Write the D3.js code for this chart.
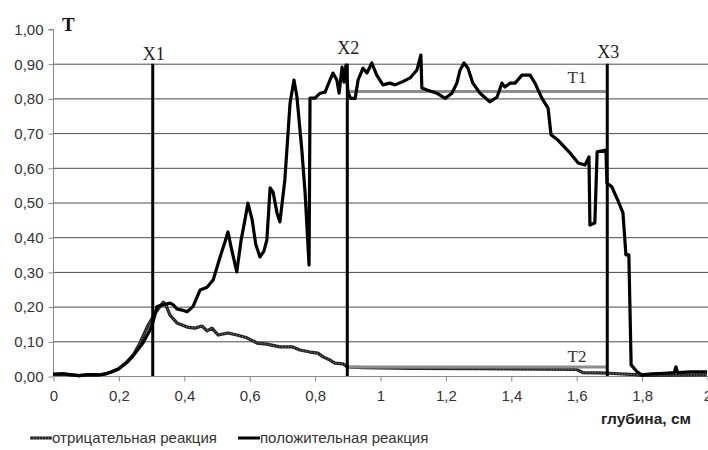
<!DOCTYPE html>
<html>
<head>
<meta charset="utf-8">
<script src="https://cdn.jsdelivr.net/npm/d3@7"></script>
<style>
  html, body { margin: 0; padding: 0; background: #fff; }
  svg { display: block; }
</style>
</head>
<body>
<svg id="chart" width="708" height="450"></svg>
<script>
// Depth (cm) and transmission T for the positive reaction
const posDepth = [0,0.03,0.05,0.08,0.11,0.14,0.16,0.18,0.2,0.225,0.245,0.275,0.295,0.306,0.318,0.337,0.358,0.368,0.379,0.395,0.41,0.428,0.45,0.471,0.49,0.511,0.527,0.535,0.545,0.562,0.575,0.587,0.596,0.609,0.62,0.633,0.645,0.654,0.664,0.673,0.685,0.694,0.709,0.725,0.737,0.746,0.761,0.771,0.783,0.786,0.801,0.817,0.832,0.847,0.856,0.868,0.875,0.884,0.89,0.896,0.902,0.91,0.924,0.933,0.948,0.96,0.975,0.99,1.009,1.03,1.046,1.067,1.092,1.113,1.125,1.128,1.144,1.174,1.199,1.22,1.235,1.245,1.257,1.269,1.284,1.306,1.336,1.358,1.373,1.382,1.398,1.413,1.434,1.459,1.474,1.495,1.514,1.523,1.544,1.581,1.606,1.627,1.639,1.642,1.657,1.664,1.691,1.694,1.709,1.728,1.743,1.752,1.761,1.768,1.786,1.801,1.83,1.87,1.9,1.905,1.91,1.95,2.0];
const posT = [0.005,0.006,0.004,0.001,0.004,0.003,0.006,0.012,0.02,0.038,0.058,0.095,0.13,0.155,0.2,0.205,0.21,0.205,0.193,0.19,0.185,0.2,0.248,0.256,0.277,0.343,0.39,0.415,0.37,0.30,0.39,0.45,0.498,0.45,0.38,0.343,0.36,0.392,0.542,0.53,0.47,0.444,0.565,0.787,0.853,0.804,0.651,0.527,0.32,0.801,0.801,0.815,0.818,0.853,0.873,0.853,0.815,0.89,0.847,0.896,0.818,0.80,0.80,0.853,0.887,0.873,0.902,0.867,0.839,0.844,0.839,0.847,0.859,0.882,0.925,0.83,0.824,0.815,0.80,0.815,0.844,0.882,0.902,0.887,0.844,0.815,0.79,0.804,0.844,0.833,0.844,0.844,0.867,0.867,0.844,0.801,0.772,0.695,0.68,0.643,0.614,0.608,0.631,0.435,0.441,0.646,0.651,0.556,0.545,0.505,0.47,0.349,0.349,0.032,0.012,0.003,0.006,0.008,0.01,0.026,0.01,0.012,0.012];

// Depth (cm) and transmission T for the negative reaction
const negDepth = [0,0.03,0.05,0.08,0.11,0.14,0.16,0.18,0.2,0.225,0.245,0.266,0.291,0.312,0.337,0.345,0.358,0.379,0.41,0.434,0.456,0.471,0.486,0.505,0.535,0.562,0.593,0.624,0.654,0.694,0.731,0.755,0.786,0.81,0.826,0.847,0.862,0.887,0.9,0.95,1.1,1.3,1.5,1.6,1.62,1.7,1.78,1.8,2.0];
const negT = [0.005,0.006,0.004,0.001,0.004,0.003,0.006,0.012,0.02,0.04,0.06,0.095,0.147,0.18,0.213,0.205,0.175,0.153,0.141,0.138,0.144,0.13,0.138,0.118,0.124,0.118,0.11,0.095,0.092,0.084,0.084,0.075,0.069,0.066,0.055,0.046,0.037,0.035,0.026,0.024,0.022,0.021,0.02,0.019,0.01,0.008,0.004,0.002,0.003];

// Marker depths and threshold levels
const markerNames = ["X1", "X2", "X3"];
const markerDepth = [0.305, 0.9, 1.695];
const markerTop = 0.9;
const levelNames = ["T1", "T2"];
const levelT = [0.82, 0.026];

const xTicks = [0, 0.2, 0.4, 0.6, 0.8, 1, 1.2, 1.4, 1.6, 1.8, 2];
const yTicks = [0, 0.1, 0.2, 0.3, 0.4, 0.5, 0.6, 0.7, 0.8, 0.9, 1.0];

const seriesNames = ["отрицательная реакция", "положительная реакция"];
const xTitle = "глубина, см";
const yTitle = "T";

const svg = d3.select("#chart");
const plotLeft = 53, plotRight = 707, plotTop = 29, plotBottom = 376;

const x = d3.scaleLinear().domain([0, 2]).range([plotLeft, plotRight]);
const y = d3.scaleLinear().domain([0, 1]).range([plotBottom, plotTop]);

const comma = v => v.toString().replace(".", ",");
const sans = "Liberation Sans, Arial, sans-serif";
const serif = "Liberation Serif, Times New Roman, serif";

// horizontal gridlines
svg.append("g").selectAll("line")
  .data(yTicks.filter(v => v > 0 && v < 1))
  .join("line")
  .attr("x1", plotLeft).attr("x2", plotRight + 1)
  .attr("y1", d => y(d) + 0.5).attr("y2", d => y(d) + 0.5)
  .attr("stroke", "#4a4a4a").attr("stroke-width", 1);

// y axis
const yAxis = d3.axisLeft(y).tickValues(yTicks).tickSize(5).tickPadding(5)
  .tickFormat(d => d3.format(".2f")(d).replace(".", ","));
const gy = svg.append("g").attr("transform", `translate(${plotLeft + 0.5},0.5)`).call(yAxis);
gy.select(".domain").attr("stroke", "#888").attr("d", `M-5,${plotTop}H0V${plotBottom}`);
gy.selectAll(".tick line").attr("stroke", "#888");
gy.selectAll("text").attr("font-family", sans)
  .attr("font-size", 15).attr("fill", "#333");

// x axis
const xAxis = d3.axisBottom(x).tickValues(xTicks).tickSize(5).tickPadding(9)
  .tickFormat(d => comma(d));
const gx = svg.append("g").attr("transform", `translate(0.5,${plotBottom + 0.5})`).call(xAxis);
gx.select(".domain").attr("stroke", "#888").attr("d", `M${plotLeft},0H${plotRight}`);
gx.selectAll(".tick line").attr("stroke", "#888");
gx.selectAll("text").attr("font-family", sans)
  .attr("font-size", 15).attr("fill", "#333");

const posData = posDepth.map((d, i) => [d, posT[i]]);
const negData = negDepth.map((d, i) => [d, negT[i]]);
const line = d3.line().x(d => x(d[0])).y(d => y(d[1]));

// negative reaction: grainy dark line
svg.append("path").datum(negData).attr("d", line)
  .attr("fill", "none").attr("stroke", "#222").attr("stroke-width", 3.2)
  .attr("stroke-linejoin", "round");
svg.append("path").datum(negData).attr("d", line)
  .attr("fill", "none").attr("stroke", "#9a9a9a").attr("stroke-width", 1)
  .attr("stroke-dasharray", "1,2");

// threshold levels
svg.append("g").selectAll("line")
  .data(levelT)
  .join("line")
  .attr("x1", x(markerDepth[1])).attr("x2", x(markerDepth[2]))
  .attr("y1", d => y(d)).attr("y2", d => y(d))
  .attr("stroke", "#8c8c8c").attr("stroke-width", 3);

// positive reaction
svg.append("path").datum(posData).attr("d", line)
  .attr("fill", "none").attr("stroke", "#000").attr("stroke-width", 3.2)
  .attr("stroke-linejoin", "round");

// depth markers
svg.append("g").selectAll("line")
  .data(markerDepth)
  .join("line")
  .attr("x1", d => x(d)).attr("x2", d => x(d))
  .attr("y1", y(0)).attr("y2", y(markerTop))
  .attr("stroke", "#000").attr("stroke-width", 3);

svg.append("g").selectAll("text")
  .data(markerDepth)
  .join("text")
  .attr("x", d => x(d) + 1)
  .attr("y", (d, i) => [60, 54, 58][i])
  .attr("text-anchor", "middle")
  .attr("font-family", serif)
  .attr("font-size", 18).attr("fill", "#222")
  .text((d, i) => markerNames[i]);

svg.append("g").selectAll("text")
  .data(levelT)
  .join("text")
  .attr("x", 577)
  .attr("y", (d, i) => [83, 362][i])
  .attr("text-anchor", "middle")
  .attr("font-family", serif)
  .attr("font-size", 17).attr("fill", "#333")
  .text((d, i) => levelNames[i]);

// axis titles
svg.append("text").attr("x", 62).attr("y", 31)
  .attr("font-family", serif)
  .attr("font-weight", "bold").attr("font-size", 19).attr("fill", "#111")
  .text(yTitle);
svg.append("text").attr("x", 646).attr("y", 424).attr("text-anchor", "middle")
  .attr("font-family", sans)
  .attr("font-weight", "bold").attr("font-size", 15.5).attr("fill", "#222")
  .text(xTitle);

// legend
const legend = svg.append("g").attr("font-family", sans)
  .attr("font-size", 15).attr("fill", "#333");
const lx = [30, 238];
legend.append("line").attr("x1", lx[0]).attr("x2", lx[0] + 22).attr("y1", 438).attr("y2", 438)
  .attr("stroke", "#222").attr("stroke-width", 3);
legend.append("line").attr("x1", lx[0]).attr("x2", lx[0] + 22).attr("y1", 438).attr("y2", 438)
  .attr("stroke", "#9a9a9a").attr("stroke-width", 1).attr("stroke-dasharray", "1,2");
legend.append("line").attr("x1", lx[1]).attr("x2", lx[1] + 22).attr("y1", 438).attr("y2", 438)
  .attr("stroke", "#000").attr("stroke-width", 3);
legend.selectAll("text").data(seriesNames).join("text")
  .attr("x", (d, i) => lx[i] + 22).attr("y", 443)
  .text(d => d);
</script>
</body>
</html>
